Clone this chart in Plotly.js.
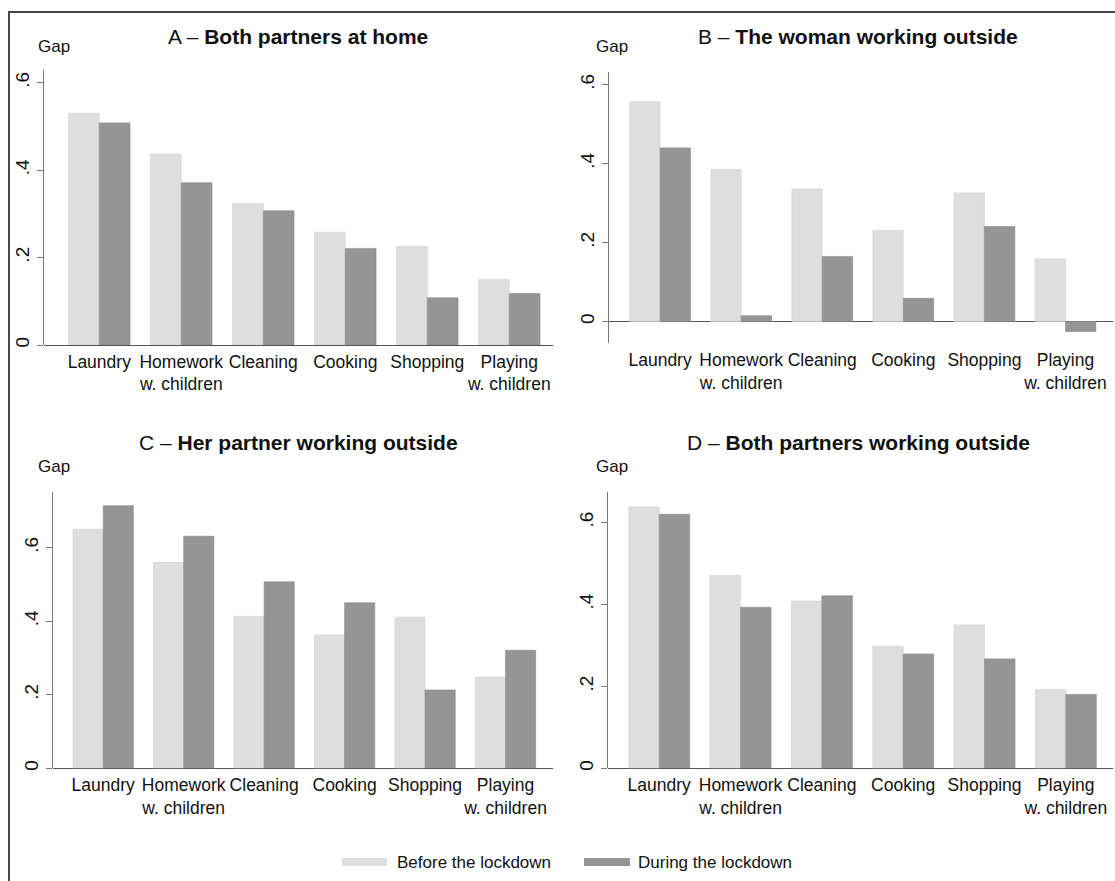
<!DOCTYPE html>
<html>
<head>
<meta charset="utf-8">
<script src="https://cdn.plot.ly/plotly-3.0.1.min.js"></script>
<style>
  html, body { margin: 0; padding: 0; background: #fff; }
  #wrap { position: relative; width: 1115px; height: 881px; overflow: hidden; }
  #chart { position: absolute; left: 0; top: 0; width: 1115px; height: 881px; }
  #frame { position: absolute; left: 8px; top: 11px; width: 1200px; height: 1000px;
           border-left: 2px solid #4a4a4a; border-top: 2px solid #4a4a4a; pointer-events: none; }
</style>
</head>
<body>
<div id="wrap">
  <div id="chart"></div>
  <div id="frame"></div>
</div>
<script>
// ---- data ----
const categories = ["Laundry", "Homework<br>w. children", "Cleaning", "Cooking", "Shopping", "Playing<br>w. children"];
const panelTitles = [
  "A – <b>Both partners at home</b>",
  "B – <b>The woman working outside</b>",
  "C – <b>Her partner working outside</b>",
  "D – <b>Both partners working outside</b>"
];
const seriesNames = ["Before the lockdown", "During the lockdown"];
const beforeA = [0.530, 0.437, 0.323, 0.258, 0.226, 0.150];
const duringA = [0.508, 0.371, 0.307, 0.221, 0.108, 0.118];
const beforeB = [0.557, 0.385, 0.336, 0.231, 0.326, 0.159];
const duringB = [0.440, 0.015, 0.165, 0.059, 0.241, -0.025];
const beforeC = [0.650, 0.560, 0.413, 0.363, 0.411, 0.248];
const duringC = [0.714, 0.631, 0.507, 0.450, 0.213, 0.321];
const beforeD = [0.638, 0.471, 0.408, 0.298, 0.350, 0.192];
const duringD = [0.620, 0.393, 0.421, 0.279, 0.267, 0.180];
const yTickVals = [0, 0.2, 0.4, 0.6];
const yTickText = ["0", ".2", ".4", ".6"];

// ---- layout helpers ----
const W = 1115, H = 881;
const FONT = "'Liberation Sans', Arial, sans-serif";
const LIGHT = "#dedede", DARK = "#959595";
const px = v => v / W;
const py = v => 1 - v / H;

const panels = [
  { before: beforeA, during: duringA, xd: [44, 553],  yd: [70, 345],    yr: [0, 0.629],      xr: [-0.674, 5.533], title: [298, 36],  gap: [36, 47] },
  { before: beforeB, during: duringB, xd: [609, 1113], yd: [71.7, 343.3], yr: [-0.055, 0.633], xr: [-0.63, 5.586],  title: [858, 36],  gap: [594, 47] },
  { before: beforeC, during: duringC, xd: [53, 553],  yd: [491.7, 768.3], yr: [0, 0.752],    xr: [-0.624, 5.59],  title: [298, 443], gap: [36, 467] },
  { before: beforeD, during: duringD, xd: [608, 1113], yd: [491.7, 768.3], yr: [0, 0.675],    xr: [-0.63, 5.58],   title: [858, 443], gap: [594, 467] }
];

const data = [];
const layout = {
  width: W, height: H,
  margin: { l: 0, r: 0, t: 0, b: 0 },
  paper_bgcolor: "#fff", plot_bgcolor: "#fff",
  showlegend: false,
  barmode: "group",
  bargap: 0.25, bargroupgap: 0,
  font: { family: FONT, size: 17, color: "#111" },
  annotations: [], shapes: []
};

panels.forEach((p, i) => {
  const n = i + 1;
  const xa = n === 1 ? "x" : "x" + n;
  const ya = n === 1 ? "y" : "y" + n;
  data.push({
    type: "bar", x: categories, y: p.before, name: seriesNames[0], xaxis: xa, yaxis: ya,
    marker: { color: LIGHT, line: { color: "#d2d2d2", width: 0.6 } }, hoverinfo: "y"
  });
  data.push({
    type: "bar", x: categories, y: p.during, name: seriesNames[1], xaxis: xa, yaxis: ya,
    marker: { color: DARK, line: { color: "#8a8a8a", width: 0.6 } }, hoverinfo: "y"
  });
  layout["xaxis" + (n === 1 ? "" : n)] = {
    domain: [px(p.xd[0]), px(p.xd[1])], anchor: ya,
    type: "category", range: p.xr, fixedrange: true, tickangle: 0,
    showline: false, showgrid: false, zeroline: false, ticks: "",
    tickfont: { family: FONT, size: 17.5, color: "#111" },
    ticklabelstandoff: 4
  };
  layout["yaxis" + (n === 1 ? "" : n)] = {
    domain: [py(p.yd[1]), py(p.yd[0])], anchor: xa,
    range: p.yr, fixedrange: true,
    tickvals: yTickVals, ticktext: yTickText, tickangle: -90,
    ticks: "outside", ticklen: 6, tickcolor: "#777", tickwidth: 1,
    showline: true, linecolor: "#777", linewidth: 1,
    showgrid: false,
    zeroline: true, zerolinecolor: "#555", zerolinewidth: 1,
    tickfont: { family: FONT, size: 19, color: "#111" }
  };
  layout.annotations.push({
    xref: "paper", yref: "paper", x: px(p.title[0]), y: py(p.title[1]),
    xanchor: "center", yanchor: "middle", showarrow: false,
    text: panelTitles[i], font: { family: FONT, size: 21, color: "#111" }
  });
  layout.annotations.push({
    xref: "paper", yref: "paper", x: px(p.gap[0]), y: py(p.gap[1]),
    xanchor: "left", yanchor: "middle", showarrow: false,
    text: "Gap", font: { family: FONT, size: 17, color: "#111" }
  });
});

// custom legend (wide swatches)
const legendItems = [
  { sw: [342, 387], tx: 395, color: LIGHT, label: seriesNames[0] },
  { sw: [584, 630], tx: 636, color: DARK, label: seriesNames[1] }
];
legendItems.forEach(it => {
  layout.shapes.push({
    type: "rect", xref: "paper", yref: "paper",
    x0: px(it.sw[0]), x1: px(it.sw[1]), y0: py(866), y1: py(858),
    fillcolor: it.color, line: { width: 0 }
  });
  layout.annotations.push({
    xref: "paper", yref: "paper", x: px(it.tx), y: py(862),
    xanchor: "left", yanchor: "middle", showarrow: false,
    text: it.label, font: { family: FONT, size: 17, color: "#111" }
  });
});

Plotly.newPlot("chart", data, layout, { displayModeBar: false, staticPlot: true });
</script>
</body>
</html>
